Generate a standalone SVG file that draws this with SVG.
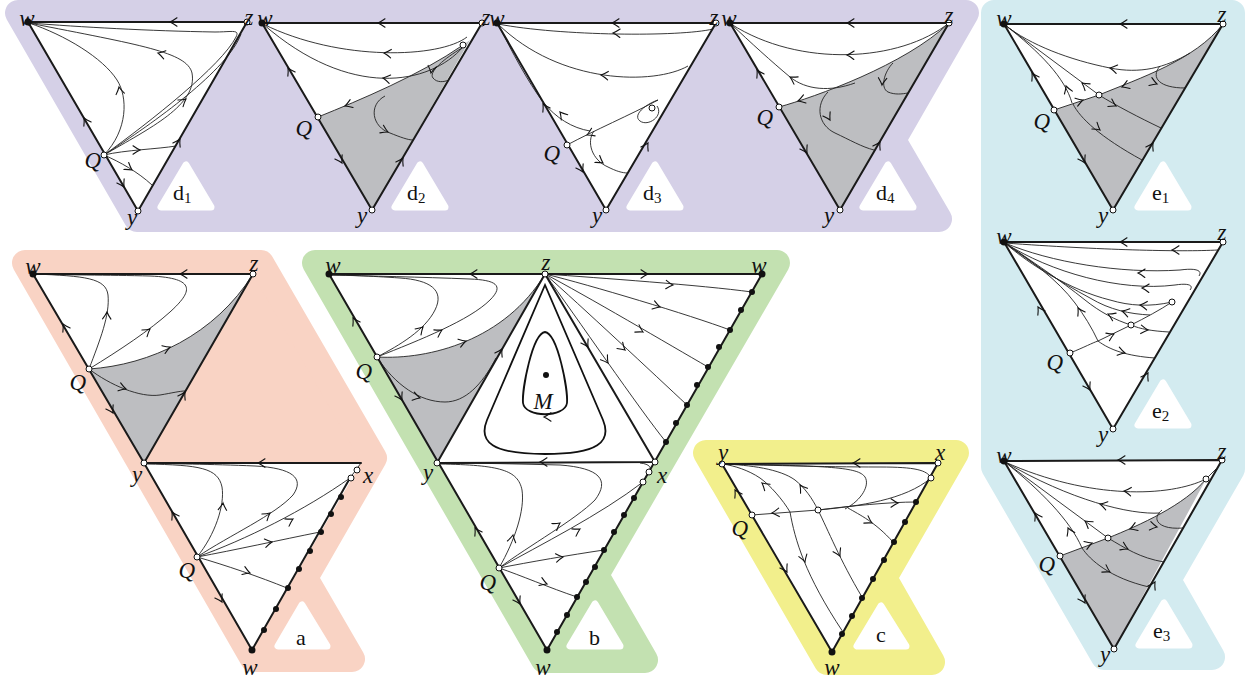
<svg xmlns="http://www.w3.org/2000/svg" xmlns:xlink="http://www.w3.org/1999/xlink" width="1250" height="682" viewBox="0 0 1250 682">
<style>
.bg{stroke-linejoin:round;stroke-width:26}
.tri{fill:#fff;stroke:none}
.gray{fill:#bdbec1;stroke:none}
.edge{fill:none;stroke:#1a1a1a;stroke-width:2;stroke-linecap:round;stroke-linejoin:round}
.flow{fill:none;stroke:#222;stroke-width:0.9}
.orb{fill:none;stroke:#111;stroke-width:1.8}
.oc{fill:#fff;stroke:#111;stroke-width:1}
.dot{fill:#111}
.lab{font-family:"Liberation Serif",serif;font-style:italic;font-size:23px;fill:#111}
.tag{font-family:"Liberation Serif",serif;font-size:22px;fill:#111}
.sub{font-size:15px}
.ltri{fill:#fff;stroke:#fff;stroke-width:7;stroke-linejoin:round}
</style>
<defs>
<path id="ah" d="M-7,-4.2 Q-3,-1.3 0,0 Q-3,1.3 -7,4.2" fill="none" stroke="#111" stroke-width="1.1" stroke-linecap="round"/>
</defs>

<!-- backgrounds -->
<g id="backgrounds">
<polygon class="bg" fill="#d5d0e7" stroke="#d5d0e7" points="18,13 966,13 893,140 939,219 137,219"/>
<polygon class="bg" fill="#d3ebf0" stroke="#d3ebf0" points="994,13 1232,13 1232,469 1168,580 1212,657 1104,657 994,467"/>
<polygon class="bg" fill="#f9d3c4" stroke="#f9d3c4" points="25,263 261,263 374,458 305,578 352,659 253,659"/>
<polygon class="bg" fill="#c3e1b1" stroke="#c3e1b1" points="315,263 777,263 596,575 645,660 544,660"/>
<polygon class="bg" fill="#f2ef8c" stroke="#f2ef8c" points="706,453 956,453 884,578 932,662 827,662"/>
</g>

<!-- ================= d1 ================= -->
<g id="panel-d1">
<polygon class="tri" points="28,22 247,22 138,211"/>
<g id="d1-connectors">
<path class="flow" d="M104,155 C128,130 128,97 117,80 C103,58 65,35 29,23"/>
<path class="flow" d="M104,155 C150,128 198,105 192,73 C187,52 140,45 29,23"/>
<path class="flow" d="M104,155 C150,122 222,65 236,37 C240,29 232,32 215,32 C150,31 80,27 29,23"/>
<path class="flow" d="M104,155 C155,122 228,70 241,34"/>
<path class="flow" d="M104,155 C125,150 158,149 176,146"/>
<path class="flow" d="M104,155 C120,162 138,172 152,185"/>
<path class="edge" d="M28,22 L247,22 L138,211 Z"/>
<use href="#ah" transform="translate(119,87) rotate(-100)"/>
<use href="#ah" transform="translate(158,53) rotate(195)"/>
<use href="#ah" transform="translate(186,99) rotate(-38)"/>
<use href="#ah" transform="translate(140,150) rotate(0)"/>
<use href="#ah" transform="translate(132,170) rotate(35)"/>
<use href="#ah" transform="translate(170,22) rotate(180)"/>
<use href="#ah" transform="translate(84,118) rotate(-120)"/>
<use href="#ah" transform="translate(124,187) rotate(60)"/>
<use href="#ah" transform="translate(180,139) rotate(-60)"/>
</g>
<circle class="dot" cx="28" cy="22" r="3.5"/>
<circle class="oc" cx="247" cy="22" r="3"/>
<circle class="oc" cx="138" cy="211" r="3"/>
<circle class="oc" cx="104" cy="155" r="3"/>
<text class="lab" x="27" y="26" text-anchor="middle">w</text>
<text class="lab" x="249" y="25" text-anchor="middle">z</text>
<text class="lab" x="101" y="168" text-anchor="end">Q</text>
<text class="lab" x="132" y="225" text-anchor="middle">y</text>
<polygon class="ltri" points="186,165 161,207 211,207"/>
<text class="tag" x="173" y="200">d<tspan class="sub" dy="3">1</tspan></text>
</g>

<!-- ================= d2 ================= -->
<g id="panel-d2">
<polygon class="tri" points="262,23 482,23 372,210"/>
<path class="gray" d="M318,117 C360,100 420,75 463,45 L470,40 L372,210 Z"/>
<g id="d2-connectors">
<path class="flow" d="M467,37 C440,58 340,62 263,24"/>
<path class="flow" d="M463,47 C430,85 350,100 263,24"/>
<path class="flow" d="M318,117 C360,100 420,75 463,45"/>
<path class="flow" d="M462,48 C445,58 428,72 433,78 C437,83 444,82 449,80"/>
<path class="flow" d="M385,96 C368,105 372,127 390,133 C400,137 408,140 413,140"/>
<path class="edge" d="M262,23 L482,23 L372,210 Z"/>
<use href="#ah" transform="translate(384,53) rotate(185)"/>
<use href="#ah" transform="translate(383,78) rotate(190)"/>
<use href="#ah" transform="translate(345,106) rotate(160)"/>
<use href="#ah" transform="translate(431,73) rotate(100)"/>
<use href="#ah" transform="translate(388,132) rotate(25)"/>
<use href="#ah" transform="translate(378,23) rotate(180)"/>
<use href="#ah" transform="translate(288,68) rotate(-120)"/>
<use href="#ah" transform="translate(342,163) rotate(60)"/>
<use href="#ah" transform="translate(403,158) rotate(-60)"/>
</g>
<circle class="dot" cx="262" cy="23" r="3.5"/>
<circle class="oc" cx="482" cy="23" r="3"/>
<circle class="oc" cx="372" cy="210" r="3"/>
<circle class="oc" cx="318" cy="117" r="3"/>
<circle class="oc" cx="463" cy="45" r="3"/>
<text class="lab" x="265" y="26" text-anchor="middle">w</text>
<text class="lab" x="486" y="25" text-anchor="middle">z</text>
<text class="lab" x="312" y="136" text-anchor="end">Q</text>
<text class="lab" x="362" y="223" text-anchor="middle">y</text>
<polygon class="ltri" points="420,165 395,207 445,207"/>
<text class="tag" x="407" y="200">d<tspan class="sub" dy="3">2</tspan></text>
</g>

<!-- ================= d3 ================= -->
<g id="panel-d3">
<polygon class="tri" points="497,23 716,23 606,210"/>
<g id="d3-connectors">
<path class="flow" d="M713,29 C680,37 560,36 498,24"/>
<path class="flow" d="M688,66 C655,85 560,85 498,24"/>
<path class="flow" d="M567,145 C595,130 630,115 658,100"/>
<path class="flow" d="M658,100 C646,104 632,115 640,121 C648,127 664,116 657,106"/>
<path class="flow" d="M590,131 C572,128 556,118 543,102 C528,82 512,52 498,24"/>
<path class="flow" d="M594,131 C586,142 592,160 608,167 C616,171 622,173 628,173"/>
<path class="edge" d="M497,23 L716,23 L606,210 Z"/>
<use href="#ah" transform="translate(613,33) rotate(182)"/>
<use href="#ah" transform="translate(601,75) rotate(185)"/>
<use href="#ah" transform="translate(587,135) rotate(155)"/>
<use href="#ah" transform="translate(560,112) rotate(-130)"/>
<use href="#ah" transform="translate(603,163) rotate(35)"/>
<use href="#ah" transform="translate(612,23) rotate(180)"/>
<use href="#ah" transform="translate(543,104) rotate(-120)"/>
<use href="#ah" transform="translate(583,172) rotate(60)"/>
<use href="#ah" transform="translate(648,143) rotate(-60)"/>
</g>
<circle class="dot" cx="497" cy="23" r="3.5"/>
<circle class="oc" cx="716" cy="23" r="3"/>
<circle class="oc" cx="606" cy="210" r="3"/>
<circle class="oc" cx="567" cy="145" r="3"/>
<circle class="oc" cx="652" cy="108" r="3"/>
<text class="lab" x="497" y="26" text-anchor="middle">w</text>
<text class="lab" x="714" y="25" text-anchor="middle">z</text>
<text class="lab" x="560" y="161" text-anchor="end">Q</text>
<text class="lab" x="597" y="223" text-anchor="middle">y</text>
<polygon class="ltri" points="655,165 630,207 680,207"/>
<text class="tag" x="643" y="200">d<tspan class="sub" dy="3">3</tspan></text>
</g>

<!-- ================= d4 ================= -->
<g id="panel-d4">
<polygon class="tri" points="730,23 949,23 840,210"/>
<path class="gray" d="M779,107 C815,97 905,65 949,23 L840,210 Z"/>
<g id="d4-connectors">
<path class="flow" d="M779,107 C815,97 905,65 949,23"/>
<path class="flow" d="M949,23 C900,62 800,68 731,24"/>
<path class="flow" d="M855,83 C830,92 806,90 790,77 C772,62 750,42 731,24"/>
<path class="flow" d="M893,63 C884,72 880,88 888,92 C895,95 902,94 908,93"/>
<path class="flow" d="M828,92 C815,105 818,125 835,133 C850,140 862,147 874,150"/>
<path class="edge" d="M730,23 L949,23 L840,210 Z"/>
<use href="#ah" transform="translate(798,101) rotate(163)"/>
<use href="#ah" transform="translate(847,55) rotate(182)"/>
<use href="#ah" transform="translate(790,77) rotate(-150)"/>
<use href="#ah" transform="translate(882,85) rotate(95)"/>
<use href="#ah" transform="translate(830,120) rotate(60)"/>
<use href="#ah" transform="translate(847,23) rotate(180)"/>
<use href="#ah" transform="translate(757,70) rotate(-120)"/>
<use href="#ah" transform="translate(807,153) rotate(60)"/>
<use href="#ah" transform="translate(880,142) rotate(-60)"/>
</g>
<circle class="dot" cx="730" cy="23" r="3.5"/>
<circle class="oc" cx="949" cy="23" r="3"/>
<circle class="oc" cx="840" cy="210" r="3"/>
<circle class="oc" cx="779" cy="107" r="3"/>
<text class="lab" x="729" y="26" text-anchor="middle">w</text>
<text class="lab" x="949" y="23" text-anchor="middle">z</text>
<text class="lab" x="773" y="125" text-anchor="end">Q</text>
<text class="lab" x="829" y="223" text-anchor="middle">y</text>
<polygon class="ltri" points="888,165 863,207 913,207"/>
<text class="tag" x="876" y="200">d<tspan class="sub" dy="3">4</tspan></text>
</g>

<!-- ================= e1 ================= -->
<g id="panel-e1">
<polygon class="tri" points="1004,24 1223,24 1113,210"/>
<path class="gray" d="M1054,110 L1099,95 C1140,78 1195,60 1223,24 L1113,210 Z"/>
<g id="e1-connectors">
<path class="flow" d="M1054,110 L1099,95 C1140,78 1195,60 1223,24"/>
<path class="flow" d="M1190,53 C1165,68 1140,74 1110,68 C1070,60 1030,45 1005,25"/>
<path class="flow" d="M1005,25 L1099,95"/>
<path class="flow" d="M1005,25 C1040,52 1065,78 1072,103"/>
<path class="flow" d="M1099,95 C1115,105 1140,118 1161,128"/>
<path class="flow" d="M1073,104 C1080,118 1100,137 1142,160"/>
<path class="flow" d="M1160,66 C1150,78 1160,88 1185,88"/>
<path class="edge" d="M1004,24 L1223,24 L1113,210 Z"/>
<use href="#ah" transform="translate(1110,68) rotate(190)"/>
<use href="#ah" transform="translate(1082,83) rotate(-143)"/>
<use href="#ah" transform="translate(1066,86) rotate(-110)"/>
<use href="#ah" transform="translate(1116,106) rotate(28)"/>
<use href="#ah" transform="translate(1100,130) rotate(38)"/>
<use href="#ah" transform="translate(1157,84) rotate(20)"/>
<use href="#ah" transform="translate(1083,100) rotate(-18)"/>
<use href="#ah" transform="translate(1122,87) rotate(160)"/>
<use href="#ah" transform="translate(1120,24) rotate(180)"/>
<use href="#ah" transform="translate(1032,73) rotate(-120)"/>
<use href="#ah" transform="translate(1085,163) rotate(60)"/>
<use href="#ah" transform="translate(1153,143) rotate(-60)"/>
</g>
<circle class="dot" cx="1004" cy="24" r="3.5"/>
<circle class="oc" cx="1223" cy="24" r="3"/>
<circle class="oc" cx="1113" cy="210" r="3"/>
<circle class="oc" cx="1054" cy="110" r="3"/>
<circle class="oc" cx="1099" cy="95" r="3"/>
<text class="lab" x="1004" y="26" text-anchor="middle">w</text>
<text class="lab" x="1222" y="22" text-anchor="middle">z</text>
<text class="lab" x="1050" y="129" text-anchor="end">Q</text>
<text class="lab" x="1103" y="223" text-anchor="middle">y</text>
<polygon class="ltri" points="1163,165 1138,207 1188,207"/>
<text class="tag" x="1152" y="200">e<tspan class="sub" dy="3">1</tspan></text>
</g>

<!-- ================= e2 ================= -->
<g id="panel-e2">
<polygon class="tri" points="1004,242 1223,242 1113,429"/>
<g id="e2-connectors">
<path class="flow" d="M1218,250 C1180,252 1100,250 1005,243"/>
<path class="flow" d="M1199,276 C1203,270 1195,268 1180,270 C1120,274 1050,262 1005,243"/>
<path class="flow" d="M1190,290 C1194,285 1188,283 1175,285 C1120,292 1050,272 1005,243"/>
<path class="flow" d="M1172,302 C1150,307 1130,306 1110,300 C1070,290 1030,265 1005,243"/>
<path class="flow" d="M1150,315 C1130,314 1110,310 1090,298 C1060,282 1030,262 1005,243"/>
<path class="flow" d="M1131,325 C1115,320 1100,312 1085,300 C1060,280 1030,260 1005,243"/>
<path class="flow" d="M1098,341 C1092,328 1084,315 1075,303 C1058,280 1030,260 1005,243"/>
<path class="flow" d="M1070,353 C1085,347 1092,343 1098,341 L1131,325 C1145,318 1160,310 1172,302"/>
<path class="flow" d="M1131,325 C1140,329 1152,331 1169,332"/>
<path class="flow" d="M1098,341 C1110,350 1127,356 1155,358"/>
<path class="edge" d="M1004,242 L1223,242 L1113,429 Z"/>
<use href="#ah" transform="translate(1172,250) rotate(180)"/>
<use href="#ah" transform="translate(1138,273) rotate(182)"/>
<use href="#ah" transform="translate(1142,288) rotate(182)"/>
<use href="#ah" transform="translate(1140,305) rotate(185)"/>
<use href="#ah" transform="translate(1122,311) rotate(195)"/>
<use href="#ah" transform="translate(1108,314) rotate(205)"/>
<use href="#ah" transform="translate(1078,308) rotate(-120)"/>
<use href="#ah" transform="translate(1114,334) rotate(-25)"/>
<use href="#ah" transform="translate(1148,330) rotate(5)"/>
<use href="#ah" transform="translate(1125,353) rotate(15)"/>
<use href="#ah" transform="translate(1120,242) rotate(180)"/>
<use href="#ah" transform="translate(1038,307) rotate(-120)"/>
<use href="#ah" transform="translate(1090,390) rotate(60)"/>
<use href="#ah" transform="translate(1148,373) rotate(-60)"/>
</g>
<circle class="dot" cx="1004" cy="242" r="3.5"/>
<circle class="oc" cx="1223" cy="242" r="3"/>
<circle class="oc" cx="1113" cy="429" r="3"/>
<circle class="oc" cx="1070" cy="353" r="3"/>
<circle class="oc" cx="1131" cy="325" r="3"/>
<circle class="oc" cx="1172" cy="302" r="3"/>
<text class="lab" x="1004" y="244" text-anchor="middle">w</text>
<text class="lab" x="1222" y="240" text-anchor="middle">z</text>
<text class="lab" x="1063" y="370" text-anchor="end">Q</text>
<text class="lab" x="1103" y="442" text-anchor="middle">y</text>
<polygon class="ltri" points="1163,383 1138,425 1188,425"/>
<text class="tag" x="1152" y="418">e<tspan class="sub" dy="3">2</tspan></text>
</g>

<!-- ================= e3 ================= -->
<g id="panel-e3">
<polygon class="tri" points="1004,461 1222,460 1114,649"/>
<path class="gray" d="M1060,556 L1108,538 C1140,525 1185,505 1206,479 L1211,470 L1114,649 Z"/>
<g id="e3-connectors">
<path class="flow" d="M1060,556 L1108,538 C1140,525 1185,505 1206,479 L1216,469"/>
<path class="flow" d="M1206,479 C1170,497 1090,500 1005,462"/>
<path class="flow" d="M1160,513 C1130,515 1070,500 1005,462"/>
<path class="flow" d="M1005,462 L1108,538"/>
<path class="flow" d="M1005,462 C1040,490 1070,520 1082,548"/>
<path class="flow" d="M1108,538 C1125,548 1140,558 1164,562"/>
<path class="flow" d="M1082,548 C1090,560 1110,578 1149,587"/>
<path class="flow" d="M1162,510 C1150,520 1160,530 1183,528"/>
<path class="edge" d="M1004,461 L1222,460 L1114,649 Z"/>
<use href="#ah" transform="translate(1124,491) rotate(185)"/>
<use href="#ah" transform="translate(1100,504) rotate(195)"/>
<use href="#ah" transform="translate(1085,521) rotate(-144)"/>
<use href="#ah" transform="translate(1068,528) rotate(-115)"/>
<use href="#ah" transform="translate(1128,549) rotate(25)"/>
<use href="#ah" transform="translate(1110,572) rotate(30)"/>
<use href="#ah" transform="translate(1157,527) rotate(10)"/>
<use href="#ah" transform="translate(1092,543) rotate(-20)"/>
<use href="#ah" transform="translate(1130,529) rotate(160)"/>
<use href="#ah" transform="translate(1118,460) rotate(180)"/>
<use href="#ah" transform="translate(1035,513) rotate(-120)"/>
<use href="#ah" transform="translate(1085,603) rotate(60)"/>
<use href="#ah" transform="translate(1155,582) rotate(-60)"/>
</g>
<circle class="dot" cx="1004" cy="461" r="3.5"/>
<circle class="oc" cx="1222" cy="460" r="3"/>
<circle class="oc" cx="1114" cy="649" r="3"/>
<circle class="oc" cx="1060" cy="556" r="3"/>
<circle class="oc" cx="1108" cy="538" r="3"/>
<circle class="oc" cx="1206" cy="479" r="3"/>
<text class="lab" x="1004" y="463" text-anchor="middle">w</text>
<text class="lab" x="1222" y="459" text-anchor="middle">z</text>
<text class="lab" x="1055" y="572" text-anchor="end">Q</text>
<text class="lab" x="1105" y="662" text-anchor="middle">y</text>
<polygon class="ltri" points="1164,603 1139,645 1189,645"/>
<text class="tag" x="1153" y="638">e<tspan class="sub" dy="3">3</tspan></text>
</g>

<!-- ================= a ================= -->
<g id="panel-a">
<polygon class="tri" points="33,274 253,274 144,463"/>
<polygon class="tri" points="144,463 361,463 252,650"/>
<path class="gray" d="M89,369 C150,365 215,335 253,274 L144,463 Z"/>
<g id="a-connectors">
<path class="flow" d="M89,369 C120,350 150,330 170,312 C192,292 198,278 150,276 C110,275 60,275 34,274"/>
<path class="flow" d="M89,369 C100,340 110,315 108,295 C106,278 85,276 34,274"/>
<path class="flow" d="M89,369 C150,365 215,335 253,274"/>
<path class="flow" d="M89,369 C110,385 140,398 160,395 C172,393 180,391 185,391"/>
<path class="flow" d="M197,557 C215,535 225,505 222,487 C218,468 200,465 146,464"/>
<path class="flow" d="M197,557 C230,535 275,515 293,495 C305,478 292,468 255,466 C210,464 170,464 146,463"/>
<path class="flow" d="M197,557 C245,540 305,510 350,478"/>
<path class="flow" d="M197,557 C235,550 280,540 320,532"/>
<path class="flow" d="M197,557 C225,565 260,577 287,588"/>
<path class="flow" d="M361,463 L350,478"/>
<path class="edge" d="M33,274 L253,274 L144,463 Z"/>
<path class="edge" d="M144,463 L361,463 M144,463 L252,650 L350,478"/>
<use href="#ah" transform="translate(150,329) rotate(-38)"/>
<use href="#ah" transform="translate(107,312) rotate(-88)"/>
<use href="#ah" transform="translate(170,347) rotate(-22)"/>
<use href="#ah" transform="translate(126,389) rotate(18)"/>
<use href="#ah" transform="translate(180,274) rotate(180)"/>
<use href="#ah" transform="translate(63,324) rotate(-120)"/>
<use href="#ah" transform="translate(113,413) rotate(60)"/>
<use href="#ah" transform="translate(185,392) rotate(-60)"/>
<use href="#ah" transform="translate(223,503) rotate(-85)"/>
<use href="#ah" transform="translate(270,513) rotate(-38)"/>
<use href="#ah" transform="translate(293,519) rotate(-30)"/>
<use href="#ah" transform="translate(272,542) rotate(-10)"/>
<use href="#ah" transform="translate(250,573) rotate(20)"/>
<use href="#ah" transform="translate(258,463) rotate(180)"/>
<use href="#ah" transform="translate(172,512) rotate(-120)"/>
<use href="#ah" transform="translate(222,602) rotate(60)"/>
</g>
<g id="a-dots">
<circle class="dot" cx="341" cy="497" r="3"/>
<circle class="dot" cx="331" cy="514" r="3"/>
<circle class="dot" cx="321" cy="532" r="3"/>
<circle class="dot" cx="310" cy="551" r="3"/>
<circle class="dot" cx="299" cy="569" r="3"/>
<circle class="dot" cx="288" cy="588" r="3"/>
<circle class="dot" cx="276" cy="609" r="3"/>
<circle class="dot" cx="264" cy="630" r="3"/>
</g>
<circle class="dot" cx="33" cy="274" r="3.5"/>
<circle class="oc" cx="253" cy="274" r="3"/>
<circle class="oc" cx="144" cy="463" r="3"/>
<circle class="oc" cx="89" cy="369" r="3"/>
<circle class="oc" cx="197" cy="557" r="3"/>
<circle class="oc" cx="357" cy="470" r="3"/>
<circle class="oc" cx="351" cy="478" r="3"/>
<circle class="dot" cx="252" cy="650" r="3.5"/>
<text class="lab" x="33" y="274" text-anchor="middle">w</text>
<text class="lab" x="254" y="271" text-anchor="middle">z</text>
<text class="lab" x="86" y="390" text-anchor="end">Q</text>
<text class="lab" x="137" y="482" text-anchor="middle">y</text>
<text class="lab" x="363" y="483">x</text>
<text class="lab" x="195" y="578" text-anchor="end">Q</text>
<text class="lab" x="250" y="675" text-anchor="middle">w</text>
<polygon class="ltri" points="302,605 278,646 327,646"/>
<text class="tag" x="296" y="645">a</text>
</g>

<!-- ================= b ================= -->
<g id="panel-b">
<polygon class="tri" points="329,274 762,274 547,650"/>
<path class="gray" d="M377,357 C430,360 505,340 545,274 L437,463 Z"/>
<g id="b-connectors">
<path class="flow" d="M377,357 C400,345 425,330 435,310 C445,290 430,280 400,278 C370,276 345,275 330,275"/>
<path class="flow" d="M377,357 C420,340 470,320 490,300 C505,285 495,280 470,279 C420,277 370,276 330,275"/>
<path class="flow" d="M377,357 C430,360 505,340 545,274"/>
<path class="flow" d="M377,357 C395,385 420,402 445,402 C465,402 482,385 496,358"/>
<path class="orb" d="M545,285 L487,420 C478,442 492,454 545,454 C598,454 612,442 603,420 Z"/>
<path class="orb" d="M545,332 C558,334 568,390 567,403 C565,418 525,418 523,403 C522,390 532,334 545,332 Z"/>
<path class="flow" d="M545,274 C600,278 700,285 752,292"/>
<path class="flow" d="M545,274 C590,285 690,315 730,330"/>
<path class="flow" d="M545,274 C585,295 670,345 708,367"/>
<path class="flow" d="M545,274 C580,305 655,375 687,405"/>
<path class="flow" d="M545,274 C575,315 640,410 666,442"/>
<path class="flow" d="M499,568 C515,540 525,510 522,490 C518,470 500,465 440,464"/>
<path class="flow" d="M499,568 C530,545 575,520 595,500 C610,480 600,468 560,465 C520,464 480,463 440,463"/>
<path class="flow" d="M499,568 C540,545 600,515 643,482"/>
<path class="flow" d="M499,568 C530,562 570,555 604,550"/>
<path class="flow" d="M499,568 C520,575 550,588 577,597"/>
<path class="flow" d="M640,463 C650,464 652,468 649,472 M649,472 L643,482"/>
<path class="edge" d="M329,274 L762,274 L547,650 Z"/>
<path class="edge" d="M545,274 L437,463 L655,462 Z"/>
<use href="#ah" transform="translate(423,327) rotate(-45)"/>
<use href="#ah" transform="translate(442,330) rotate(-30)"/>
<use href="#ah" transform="translate(466,341) rotate(-18)"/>
<use href="#ah" transform="translate(420,398) rotate(15)"/>
<use href="#ah" transform="translate(470,274) rotate(180)"/>
<use href="#ah" transform="translate(353,318) rotate(-120)"/>
<use href="#ah" transform="translate(402,400) rotate(60)"/>
<use href="#ah" transform="translate(502,349) rotate(-60)"/>
<use href="#ah" transform="translate(588,347) rotate(60)"/>
<use href="#ah" transform="translate(648,274) rotate(0)"/>
<use href="#ah" transform="translate(540,462) rotate(180)"/>
<use href="#ah" transform="translate(544,417) rotate(180)"/>
<use href="#ah" transform="translate(673,285) rotate(4)"/>
<use href="#ah" transform="translate(660,307) rotate(17)"/>
<use href="#ah" transform="translate(643,332) rotate(30)"/>
<use href="#ah" transform="translate(625,350) rotate(42)"/>
<use href="#ah" transform="translate(608,363) rotate(55)"/>
<use href="#ah" transform="translate(513,535) rotate(-78)"/>
<use href="#ah" transform="translate(560,523) rotate(-35)"/>
<use href="#ah" transform="translate(580,529) rotate(-30)"/>
<use href="#ah" transform="translate(563,557) rotate(-8)"/>
<use href="#ah" transform="translate(547,584) rotate(20)"/>
<use href="#ah" transform="translate(475,528) rotate(-120)"/>
<use href="#ah" transform="translate(520,604) rotate(60)"/>
</g>
<g id="b-dots">
<circle class="dot" cx="752" cy="292" r="3"/>
<circle class="dot" cx="741" cy="310" r="3"/>
<circle class="dot" cx="730" cy="330" r="3"/>
<circle class="dot" cx="719" cy="347" r="3"/>
<circle class="dot" cx="708" cy="367" r="3"/>
<circle class="dot" cx="697" cy="385" r="3"/>
<circle class="dot" cx="687" cy="405" r="3"/>
<circle class="dot" cx="676" cy="423" r="3"/>
<circle class="dot" cx="666" cy="442" r="3"/>
<circle class="dot" cx="634" cy="498" r="3"/>
<circle class="dot" cx="624" cy="515" r="3"/>
<circle class="dot" cx="614" cy="532" r="3"/>
<circle class="dot" cx="604" cy="550" r="3"/>
<circle class="dot" cx="595" cy="567" r="3"/>
<circle class="dot" cx="586" cy="582" r="3"/>
<circle class="dot" cx="577" cy="597" r="3"/>
<circle class="dot" cx="567" cy="615" r="3"/>
<circle class="dot" cx="557" cy="632" r="3"/>
</g>
<circle class="dot" cx="546" cy="375" r="3"/>
<circle class="dot" cx="329" cy="274" r="3.5"/>
<circle class="dot" cx="762" cy="274" r="3.5"/>
<circle class="dot" cx="547" cy="650" r="3.5"/>
<circle class="oc" cx="545" cy="274" r="3"/>
<circle class="oc" cx="437" cy="463" r="3"/>
<circle class="oc" cx="655" cy="462" r="3"/>
<circle class="oc" cx="649" cy="472" r="3"/>
<circle class="oc" cx="643" cy="482" r="3"/>
<circle class="oc" cx="377" cy="357" r="3"/>
<circle class="oc" cx="499" cy="568" r="3"/>
<text class="lab" x="333" y="273" text-anchor="middle">w</text>
<text class="lab" x="546" y="270" text-anchor="middle">z</text>
<text class="lab" x="759" y="273" text-anchor="middle">w</text>
<text class="lab" x="372" y="379" text-anchor="end">Q</text>
<text class="lab" x="428" y="480" text-anchor="middle">y</text>
<text class="lab" x="657" y="483">x</text>
<text class="lab" x="496" y="590" text-anchor="end">Q</text>
<text class="lab" x="543" y="675" text-anchor="middle">w</text>
<text class="lab" x="543" y="409" text-anchor="middle">M</text>
<polygon class="ltri" points="595,604 570,646 620,646"/>
<text class="tag" x="589" y="645">b</text>
</g>

<!-- ================= c ================= -->
<g id="panel-c">
<polygon class="tri" points="722,464 938,463 832,652"/>
<g id="c-connectors">
<path class="flow" d="M931,478 C927,470 915,467 880,467 C820,467 760,465 723,464"/>
<path class="flow" d="M818,510 L752,515"/>
<path class="flow" d="M818,510 C850,506 890,502 916,502"/>
<path class="flow" d="M818,510 C860,506 905,500 931,478"/>
<path class="flow" d="M790,512 C783,500 770,485 760,478 C748,470 735,466 723,464"/>
<path class="flow" d="M790,512 C795,540 805,575 843,632"/>
<path class="flow" d="M818,510 C812,498 805,488 795,480 C780,469 750,465 723,464"/>
<path class="flow" d="M818,510 C828,530 840,560 862,597"/>
<path class="flow" d="M848,508 C860,515 875,522 893,542"/>
<path class="flow" d="M845,509 C862,500 870,485 865,477 C858,467 830,466 723,464"/>
<path class="edge" d="M722,464 L938,463 L832,652 Z"/>
<use href="#ah" transform="translate(772,513) rotate(175)"/>
<use href="#ah" transform="translate(898,503) rotate(0)"/>
<use href="#ah" transform="translate(762,483) rotate(-140)"/>
<use href="#ah" transform="translate(805,562) rotate(72)"/>
<use href="#ah" transform="translate(800,485) rotate(-125)"/>
<use href="#ah" transform="translate(840,556) rotate(63)"/>
<use href="#ah" transform="translate(872,523) rotate(30)"/>
<use href="#ah" transform="translate(853,463) rotate(180)"/>
<use href="#ah" transform="translate(735,490) rotate(-120)"/>
<use href="#ah" transform="translate(787,572) rotate(60)"/>
</g>
<g id="c-dots">
<circle class="dot" cx="916" cy="502" r="3"/>
<circle class="dot" cx="905" cy="522" r="3"/>
<circle class="dot" cx="894" cy="542" r="3"/>
<circle class="dot" cx="884" cy="560" r="3"/>
<circle class="dot" cx="873" cy="579" r="3"/>
<circle class="dot" cx="862" cy="598" r="3"/>
<circle class="dot" cx="852" cy="616" r="3"/>
<circle class="dot" cx="842" cy="634" r="3"/>
</g>
<circle class="dot" cx="832" cy="652" r="3.5"/>
<circle class="oc" cx="722" cy="464" r="3"/>
<circle class="oc" cx="938" cy="463" r="3"/>
<circle class="oc" cx="931" cy="478" r="3"/>
<circle class="oc" cx="752" cy="515" r="3"/>
<circle class="oc" cx="818" cy="510" r="3"/>
<text class="lab" x="723" y="460" text-anchor="middle">y</text>
<text class="lab" x="940" y="460" text-anchor="middle">x</text>
<text class="lab" x="748" y="536" text-anchor="end">Q</text>
<text class="lab" x="832" y="675" text-anchor="middle">w</text>
<polygon class="ltri" points="881,606 857,646 906,646"/>
<text class="tag" x="876" y="642">c</text>
</g>
</svg>
